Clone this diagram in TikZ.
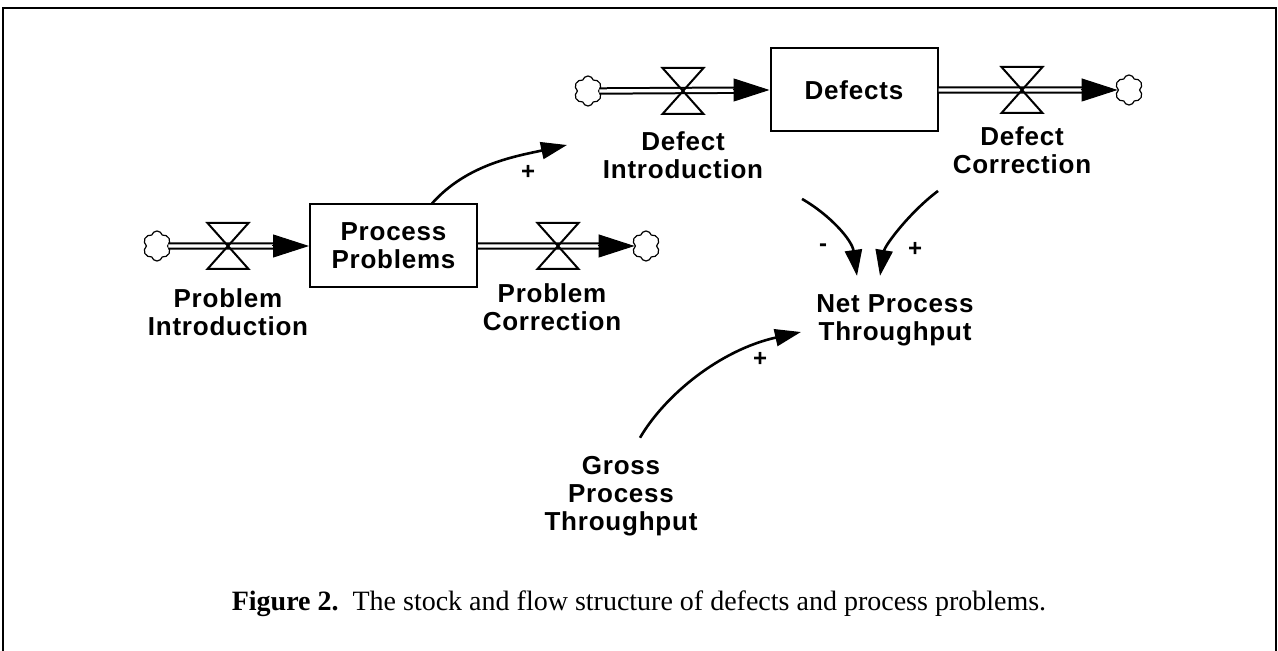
\documentclass[tikz,border=0pt]{standalone}
\usepackage{fontspec}
\setmainfont{Liberation Serif}
\newfontfamily\labfont[LetterSpace=3]{Liberation Sans}
\newfontfamily\sgnfont{Liberation Sans}
\usetikzlibrary{arrows.meta,shapes.symbols,calc}
\tikzset{
  lab/.style={font=\labfont\bfseries\fontsize{13}{14}\selectfont, align=center, inner sep=0pt},
  sgn/.style={font=\sgnfont\bfseries\fontsize{12}{12}\selectfont, inner sep=0pt},
  stock/.style={draw, line width=1pt, minimum width=167*0.5pt, minimum height=83*0.5pt, inner sep=0pt,
     font=\labfont\bfseries\fontsize{13}{14}\selectfont, align=center},
  src/.style={draw, cloud, cloud puffs=6, cloud puff arc=150, aspect=0.9, minimum width=14pt, minimum height=15pt, inner sep=0pt, line width=0.6pt},
  pipe/.style={double, double distance=1.7pt, line width=1pt},
  flowhead/.style={line width=0.5pt, -{Triangle[length=18pt,width=11.5pt]}},
  infl/.style={line width=1.3pt, -{Triangle[length=13pt,width=8.5pt]}},
  valve/.pic={
    \coordinate (-c) at (0,0);
    \draw[line width=1pt, line join=miter] (-20.5,-23) -- (20.5,-23) -- (0,0) -- cycle;
    \draw[line width=1pt, line join=miter] (-20.5,23) -- (20.5,23) -- (0,0) -- cycle;
  }
}
\begin{document}
\begin{tikzpicture}[x=0.5pt,y=-0.5pt]
\useasboundingbox (0,0) rectangle (1278,651);
% frame
\draw[line width=1.3pt] (3,651) -- (3,8) -- (1276,8) -- (1276,651);

% Process problems row
\node[stock] (pp) at (393.5,246) {Process\\Problems};
\node[src] (cpi) at (157,246) {};
\node[src] (cpc) at (646,246) {};
\draw[pipe, shorten >=17pt] (cpi.east) -- (pp.west);
\draw[flowhead] ($(pp.west)+(-37,0)$) -- (pp.west);
\draw[pipe, shorten >=17pt] (pp.east) -- (cpc.west);
\draw[flowhead] ($(cpc.west)+(-37,0)$) -- (cpc.west);
\pic (vpi) at (228,246) {valve};
\pic (vpc) at (558,246) {valve};
\node[lab] (pi) at (228,312) {Problem\\Introduction};
\node[lab] (pc) at (552,307) {Problem\\Correction};

% Defects row
\node[stock] (df) at (854,90) {Defects};
\node[src] (cdi) at (588,91) {};
\node[src] (cdc) at (1129,90) {};
\draw[pipe, shorten >=17pt] (cdi.east) -- (df.west);
\draw[flowhead] ($(df.west)+(-37,0)$) -- (df.west);
\draw[pipe, shorten >=17pt] (df.east) -- (cdc.west);
\draw[flowhead] ($(cdc.west)+(-37,0)$) -- (cdc.west);
\pic (vdi) at (683,91) {valve};
\pic (vdc) at (1022,90) {valve};
\node[lab] (di) at (683,155) {Defect\\Introduction};
\node[lab] (dc) at (1022,150) {Defect\\Correction};

% auxiliaries
\node[lab] (net) at (895,320) {Net Process\\Throughput};
\node[lab] (gross) at (621,496) {Gross\\Process\\Throughput};

% influences
\draw[infl] ($(pp.north)+(38.5,0)$) .. controls (467,164) and (517,156) .. ($(di.center)+(-116,-10)$);
\node[sgn] (s1) at (528,172) {+};
\draw[infl] ($(di.south)+(119,20)$) .. controls (830,215) and (852,240) .. ($(net.north)+(-38,-18)$);
\node[sgn] (s2) at (823,248) {-};
\draw[infl] ($(dc.south)+(-84,17)$) .. controls (910,212) and (885,245) .. ($(net.north)+(-15,-18)$);
\node[sgn] (s3) at (915,249) {+};
\draw[infl] ($(gross.north)+(19,-18)$) .. controls (665,395) and (720,350) .. ($(net.west)+(-15,12)$);
\node[sgn] (s4) at (760,359) {+};

% caption
\node[inner sep=0pt, font=\fontsize{14}{16}\selectfont] (cap) at (639,604) {\textbf{Figure 2.}\ \ The stock and flow structure of defects and process problems.};
\end{tikzpicture}
\end{document}
